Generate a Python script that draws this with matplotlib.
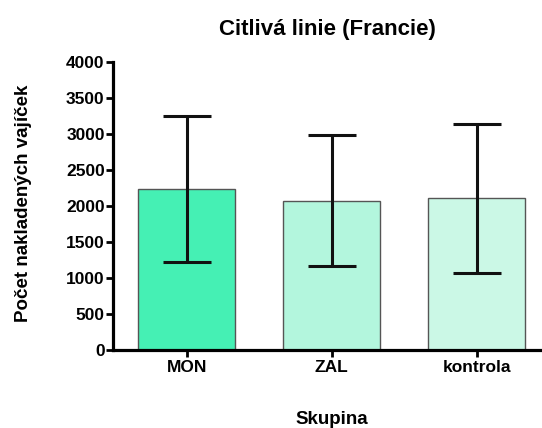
import matplotlib
matplotlib.use("Agg")
import matplotlib.pyplot as plt
import numpy as np

skupiny = ["MON", "ZAL", "kontrola"]
prumer = [2240, 2080, 2110]
chyba = [1010, 905, 1035]
barvy = ["#45f0b4", "#b3f6dd", "#cbf8e6"]

plt.rcParams['font.family'] = ['Liberation Sans', 'DejaVu Sans']
plt.rcParams['font.weight'] = 'bold'

fig = plt.figure(figsize=(5.42, 4.28), dpi=100)
ax = fig.add_axes([0.2085, 0.1815, 0.7915, 0.6729])

x = np.arange(len(skupiny))
ax.bar(x, prumer, width=0.667, color=barvy, edgecolor="#555555", linewidth=1.0, zorder=2)
ax.errorbar(x, prumer, yerr=chyba, fmt="none", ecolor="#111111", elinewidth=2.2,
            capsize=17.5, capthick=2.2, zorder=3)

ax.set_xlim(-0.508, 2.45)
ax.set_ylim(0, 4000)
ax.set_yticks(np.arange(0, 4001, 500))
ax.set_xticks(x)
ax.set_xticklabels(skupiny, fontsize=12.5, fontweight='bold')
for lab in ax.get_yticklabels():
    lab.set_fontsize(12.5)
    lab.set_fontweight('bold')

for s in ["top", "right"]:
    ax.spines[s].set_visible(False)
for s in ["left", "bottom"]:
    ax.spines[s].set_linewidth(2.3)
ax.tick_params(axis="x", width=2, length=5, pad=2)
ax.tick_params(axis="y", width=2, length=5, pad=1)

# popisky umistene primo do obrazku
fig.text(0.605, 0.93, "Citlivá linie (Francie)", fontsize=16, fontweight='bold',
         ha='center', va='center')
fig.text(0.044, 0.525, "Počet nakladených vajíček", fontsize=13.5, fontweight='bold',
         rotation=90, ha='center', va='center')
fig.text(0.613, 0.02, "Skupina", fontsize=13.5, fontweight='bold',
         ha='center', va='center')

fig.savefig("out.png", dpi=100)
